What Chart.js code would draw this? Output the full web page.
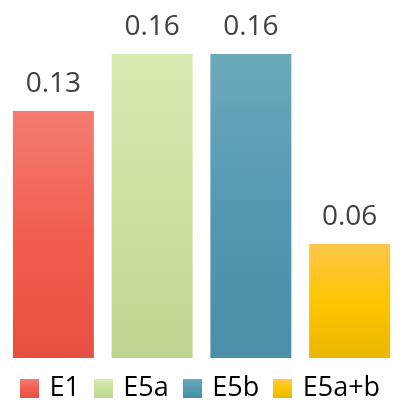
<!DOCTYPE html>
<html>
<head>
<meta charset="utf-8">
<script src="https://cdn.jsdelivr.net/npm/chart.js@4/dist/chart.umd.min.js"></script>
<style>
  html, body { margin: 0; padding: 0; background: #fff; }
  #wrap { width: 405px; height: 400px; }
</style>
</head>
<body>
<div id="wrap"><canvas id="barChart"></canvas></div>
<script>
// groups and their values
const groups = ['E1', 'E5a', 'E5b', 'E5a+b'];
const values = [0.13, 0.16, 0.16, 0.06];

// gradient stops for each bar, top -> middle -> bottom
const gradStops = [
  ['#F47C71', '#F15E4F', '#E65042'],
  ['#D8EBB2', '#CBE29F', '#BED58F'],
  ['#6CA9BD', '#5499B2', '#488FA7'],
  ['#FFC64C', '#FFC600', '#E9B700']
];

const FONT = "'Open Sans', 'DejaVu Sans', sans-serif";

function makeGradient(ctx, top, bottom, stops) {
  const g = ctx.createLinearGradient(0, top, 0, bottom);
  g.addColorStop(0, stops[0]);
  g.addColorStop(0.5, stops[1]);
  g.addColorStop(1, stops[2]);
  return g;
}

// small gradient squares used as legend markers
const swatches = gradStops.map(stops => {
  const c = document.createElement('canvas');
  c.width = 19;
  c.height = 19;
  const cx = c.getContext('2d');
  cx.fillStyle = makeGradient(cx, 0, 19, stops);
  cx.fillRect(0, 0, 19, 19);
  return c;
});

// each bar gets its own top-to-bottom gradient
function barFill(context) {
  const chart = context.chart;
  if (!chart.chartArea) return gradStops[context.dataIndex][1];
  const y = chart.scales.y;
  const top = y.getPixelForValue(context.raw);
  const bottom = y.getPixelForValue(0);
  return makeGradient(chart.ctx, top, bottom, gradStops[context.dataIndex]);
}

// value printed above each bar
const valueLabels = {
  id: 'valueLabels',
  afterDatasetsDraw(chart) {
    const ctx = chart.ctx;
    const meta = chart.getDatasetMeta(0);
    ctx.save();
    ctx.font = '28px ' + FONT;
    ctx.fillStyle = '#404040';
    ctx.textAlign = 'center';
    ctx.textBaseline = 'alphabetic';
    meta.data.forEach((bar, i) => {
      ctx.fillText(values[i].toFixed(2), bar.x, bar.y - 19);
    });
    ctx.restore();
  }
};

new Chart(document.getElementById('barChart'), {
  type: 'bar',
  data: {
    labels: groups,
    datasets: [{
      data: values,
      backgroundColor: barFill,
      borderWidth: 0,
      barPercentage: 0.82,
      categoryPercentage: 1
    }]
  },
  options: {
    responsive: true,
    maintainAspectRatio: false,
    animation: false,
    layout: { padding: { top: 54, left: 4, right: 6, bottom: -12 } },
    scales: {
      x: { display: false },
      y: { display: false, min: 0, max: 0.16 }
    },
    plugins: {
      tooltip: { enabled: false },
      legend: {
        position: 'bottom',
        labels: {
          usePointStyle: true,
          boxWidth: 13,
          boxHeight: 19,
          padding: 17,
          color: '#595959',
          font: { family: FONT, size: 27 },
          generateLabels: chart => groups.map((g, i) => ({
            text: g,
            pointStyle: swatches[i],
            fillStyle: gradStops[i][1],
            strokeStyle: 'transparent',
            lineWidth: 0,
            hidden: false,
            index: i
          }))
        }
      }
    }
  },
  plugins: [valueLabels]
});
</script>
</body>
</html>
